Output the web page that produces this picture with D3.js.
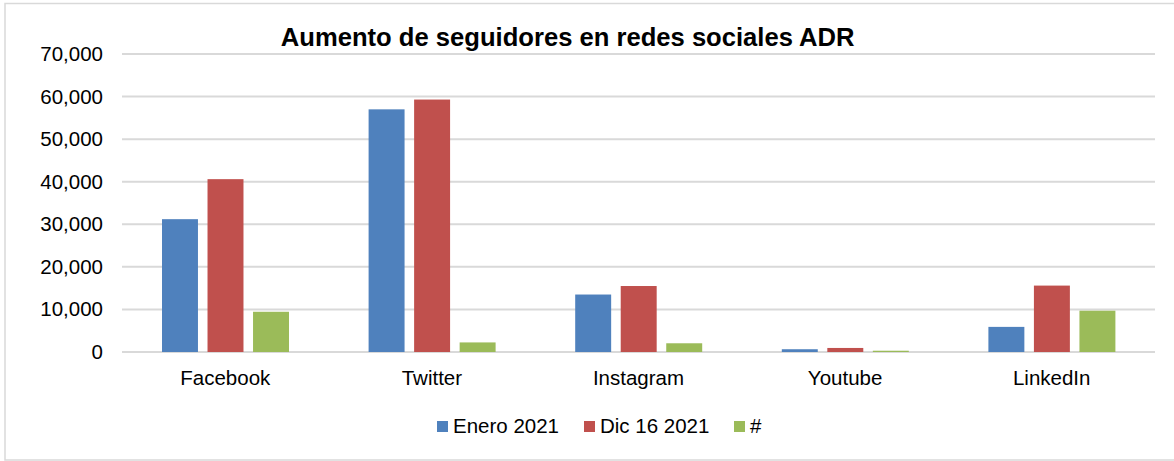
<!DOCTYPE html>
<html>
<head>
<meta charset="utf-8">
<script src="https://cdn.jsdelivr.net/npm/d3@7"></script>
<style>
  html, body { margin: 0; padding: 0; background: #fff; }
  svg { display: block; }
  text { font-family: "Liberation Sans", Arial, sans-serif; fill: #000; }
</style>
</head>
<body>
<svg id="chart" width="1174" height="461"></svg>
<script>
const title = "Aumento de seguidores en redes sociales ADR";
const categories = ["Facebook", "Twitter", "Instagram", "Youtube", "LinkedIn"];
const seriesNames = ["Enero 2021", "Dic 16 2021", "#"];
const enero2021 = [31200, 57000, 13500, 650, 5900];
const dic162021 = [40600, 59300, 15500, 950, 15600];
const diferencia = [9450, 2250, 2050, 300, 9700];
const yTicks = [0, 10000, 20000, 30000, 40000, 50000, 60000, 70000];
const colors = ["#4F81BD", "#C0504D", "#9BBB59"];

const series = [enero2021, dic162021, diferencia];

const svg = d3.select("#chart");

// outer frame
svg.append("rect")
  .attr("x", 5).attr("y", 3.5)
  .attr("width", 1180).attr("height", 456.5)
  .attr("fill", "none").attr("stroke", "#d9d9d9").attr("stroke-width", 1.5);

const plot = { left: 122, right: 1155, top: 54, bottom: 352 };

const y = d3.scaleLinear().domain([0, 70000]).range([plot.bottom, plot.top]);
const x0 = d3.scaleBand().domain(categories).range([plot.left, plot.right]).padding(0);
const x1 = d3.scaleBand().domain(d3.range(series.length))
  .range([40 / 206.6 * x0.bandwidth(), 167 / 206.6 * x0.bandwidth()])
  .paddingInner(0.21).paddingOuter(0);

// gridlines
svg.append("g").selectAll("line").data(yTicks).join("line")
  .attr("x1", plot.left).attr("x2", plot.right)
  .attr("y1", d => y(d)).attr("y2", d => y(d))
  .attr("stroke", "#d9d9d9").attr("stroke-width", 2);

// y tick labels
const fmt = d3.format(",");
svg.append("g").selectAll("text").data(yTicks).join("text")
  .attr("x", 103).attr("y", d => y(d) + 7)
  .attr("text-anchor", "end")
  .style("font-size", "20.5px")
  .text(d => fmt(d));

// bars
const groups = svg.append("g").selectAll("g").data(categories).join("g")
  .attr("transform", c => `translate(${x0(c)},0)`);
groups.selectAll("rect")
  .data((c, i) => series.map((s, j) => ({ j, v: s[i] })))
  .join("rect")
  .attr("x", d => x1(d.j))
  .attr("width", x1.bandwidth())
  .attr("y", d => y(d.v))
  .attr("height", d => y(0) - y(d.v))
  .attr("fill", d => colors[d.j]);

// category labels
svg.append("g").selectAll("text").data(categories).join("text")
  .attr("x", c => x0(c) + x0.bandwidth() / 2)
  .attr("y", 385)
  .attr("text-anchor", "middle")
  .style("font-size", "20.5px")
  .text(c => c);

// title
svg.append("text")
  .attr("x", 567.7).attr("y", 46)
  .attr("text-anchor", "middle")
  .style("font-size", "25.6px").style("font-weight", "bold")
  .text(title);

// legend
const legendItems = [
  { name: seriesNames[0], sx: 437, tx: 453 },
  { name: seriesNames[1], sx: 584, tx: 600 },
  { name: seriesNames[2], sx: 734, tx: 750 }
];
const lg = svg.append("g");
legendItems.forEach((it, i) => {
  lg.append("rect").attr("x", it.sx).attr("y", 421).attr("width", 11).attr("height", 11)
    .attr("fill", colors[i]);
  lg.append("text").attr("x", it.tx).attr("y", 433)
    .style("font-size", "20.5px").text(it.name);
});
</script>
</body>
</html>
